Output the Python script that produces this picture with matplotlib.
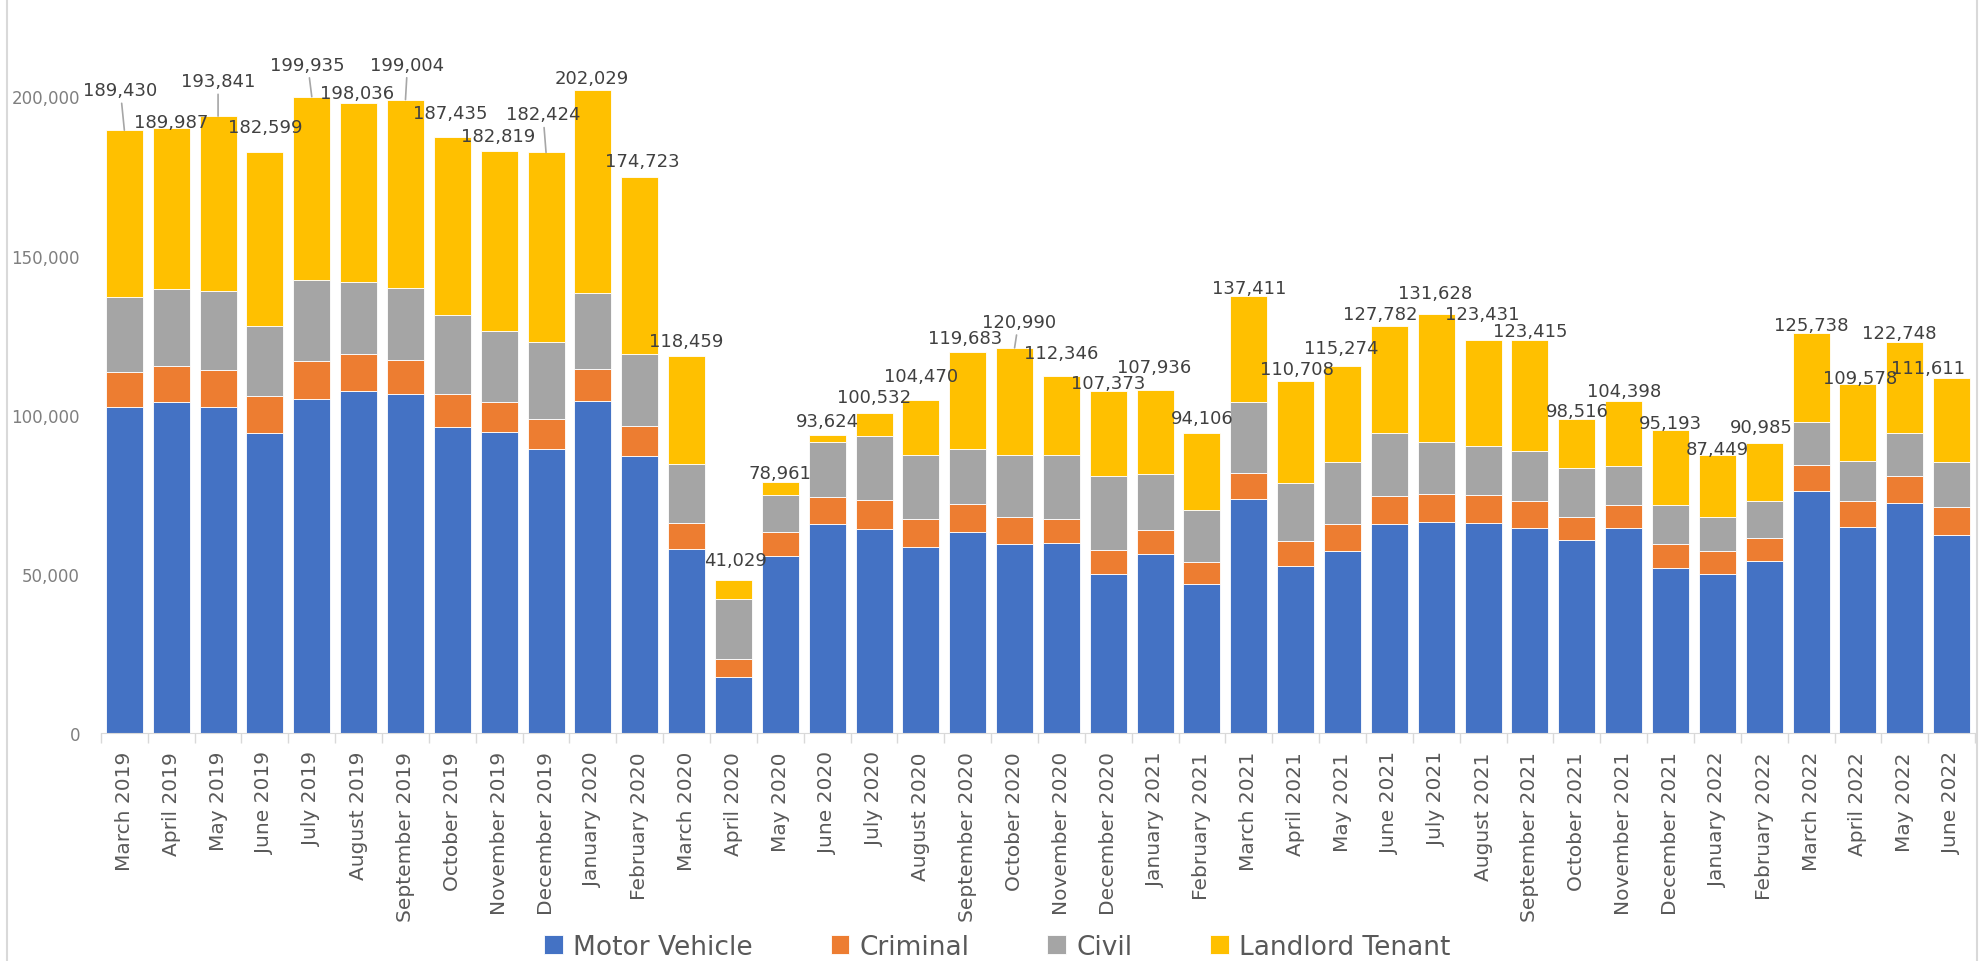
import numpy as np
import matplotlib
matplotlib.use("Agg")
from matplotlib import pyplot as plt
from matplotlib.ticker import FuncFormatter, FixedLocator

# Filings per month, in thousands
months = [
    "March 2019", "April 2019", "May 2019", "June 2019", "July 2019", "August 2019",
    "September 2019", "October 2019", "November 2019", "December 2019",
    "January 2020", "February 2020", "March 2020", "April 2020", "May 2020", "June 2020",
    "July 2020", "August 2020", "September 2020", "October 2020", "November 2020",
    "December 2020", "January 2021", "February 2021", "March 2021", "April 2021",
    "May 2021", "June 2021", "July 2021", "August 2021", "September 2021",
    "October 2021", "November 2021", "December 2021", "January 2022", "February 2022",
    "March 2022", "April 2022", "May 2022", "June 2022",
]
motor_vehicle = [102.4, 104.0, 102.4, 94.3, 105.0, 107.6, 106.6, 96.2, 94.6, 89.2,
                 104.3, 87.1, 57.9, 17.5, 55.5, 65.7, 64.0, 58.3, 63.1, 59.4,
                 59.6, 50.0, 56.2, 46.8, 73.6, 52.6, 57.3, 65.7, 66.4, 66.1,
                 64.5, 60.5, 64.3, 51.8, 50.0, 54.0, 76.0, 64.7, 72.2, 62.2]
criminal = [11.1, 11.4, 11.8, 11.7, 12.0, 11.4, 10.7, 10.4, 9.4, 9.4,
            10.1, 9.4, 8.1, 5.9, 7.5, 8.4, 9.2, 8.8, 8.7, 8.5,
            7.5, 7.5, 7.6, 6.9, 8.1, 7.6, 8.4, 8.8, 8.7, 8.6,
            8.3, 7.5, 7.3, 7.6, 7.2, 7.2, 8.2, 8.1, 8.5, 8.8]
civil = [23.5, 24.2, 24.7, 21.9, 25.2, 22.7, 22.6, 24.7, 22.4, 24.3,
         23.9, 22.6, 18.5, 18.6, 11.9, 17.3, 20.2, 20.3, 17.3, 19.3,
         20.3, 23.1, 17.5, 16.3, 22.3, 18.4, 19.5, 19.9, 16.2, 15.6,
         15.9, 15.2, 12.4, 12.2, 10.8, 11.7, 13.6, 12.7, 13.6, 14.2]
landlord_tenant = [52.4, 50.4, 54.9, 54.7, 57.7, 56.3, 59.1, 56.1, 56.4, 59.5,
                   63.7, 55.6, 34.0, 6.2, 4.1, 2.2, 7.1, 17.1, 30.6, 33.8,
                   24.9, 26.8, 26.6, 24.1, 33.4, 32.1, 30.1, 33.4, 40.3, 33.1,
                   34.7, 15.3, 20.4, 23.6, 19.4, 18.1, 27.9, 24.1, 28.5, 26.4]
total_labels = [189430, 189987, 193841, 182599, 199935, 198036, 199004, 187435, 182819, 182424,
                202029, 174723, 118459, 41029, 78961, 93624, 100532, 104470, 119683, 120990,
                112346, 107373, 107936, 94106, 137411, 110708, 115274, 127782, 131628, 123431,
                123415, 98516, 104398, 95193, 87449, 90985, 125738, 109578, 122748, 111611]

series_names = ["Motor Vehicle", "Criminal", "Civil", "Landlord Tenant"]
colors = ["#4472C4", "#ED7D31", "#A5A5A5", "#FFC000"]

# label placement tweaks (pixels, relative to bar top) - excel moved some labels around
label_dx = [-4, 0, 0, 0, -4, -2, 2, -2, -1, -3, -1, 3, 0, 2, 0, 0, 0, 0, -3, 4,
            0, 0, -1, 0, 0, 1, -1, -9, -1, -1, 0, 0, 0, 0, 0, -3, 0, 2, -6, -24]
label_dy = [34, 0, 29, 19, 26, 4, 29, 18, 9, 32, 6, 10, 9, 14, 3, 8, 10, 18, 8, 20,
            17, 2, 17, 9, 2, 6, 12, 6, 15, 20, 3, 2, 4, 1, 0, 10, 2, 0, 3, 4]
leaders = {0, 2, 4, 6, 9, 19}

fig = plt.figure(figsize=(19.83, 9.62), dpi=100)
ax = fig.add_axes([0.0509, 0.2370, 0.9451, 0.7630])

x = np.arange(len(months))
bottom = np.zeros(len(months))
for name, vals, col in zip(series_names, [motor_vehicle, criminal, civil, landlord_tenant], colors):
    v = np.array(vals) * 1000
    ax.bar(x, v, width=0.79, bottom=bottom, color=col, edgecolor="white", linewidth=0.6, label=name)
    bottom = bottom + v

for i in range(len(months)):
    props = None
    if i in leaders:
        props = dict(arrowstyle="-", color="#A6A6A6", lw=1.2, shrinkA=1, shrinkB=0)
    ax.annotate(f"{total_labels[i]:,}", xy=(x[i], bottom[i]),
                xytext=(label_dx[i], label_dy[i] + 1), textcoords="offset pixels",
                ha="center", va="baseline", fontsize=13, color="#404040",
                arrowprops=props)

ax.set_xlim(-0.5, len(months) - 0.5)
ax.set_ylim(0, 230600)
ax.set_yticks([0, 50000, 100000, 150000, 200000])
ax.yaxis.set_major_formatter(FuncFormatter(lambda v, p: f"{int(v):,}"))
ax.tick_params(axis="y", length=0, pad=15, labelsize=12, labelcolor="#7F7F7F")

# tick marks between categories, labels at centres
ax.xaxis.set_major_locator(FixedLocator(np.arange(-0.5, len(months), 1)))
ax.xaxis.set_minor_locator(FixedLocator(x))
ax.set_xticklabels([], minor=False)
ax.set_xticklabels(months, minor=True, rotation=90)
ax.tick_params(axis="x", which="major", length=7, color="#D9D9D9", width=1)
ax.tick_params(axis="x", which="minor", length=0, pad=13, labelsize=14.5, labelcolor="#595959")

for s in ["top", "right", "left"]:
    ax.spines[s].set_visible(False)
ax.spines["bottom"].set_color("#D9D9D9")

# chart frame edges
fig.add_artist(plt.Line2D([7 / 1983, 7 / 1983], [0, 1], color="#D9D9D9", lw=1.5))
fig.add_artist(plt.Line2D([1977 / 1983, 1977 / 1983], [0, 1], color="#D9D9D9", lw=1.5))

fig.legend(loc="center", bbox_to_anchor=(0.503, 0.015), ncol=4, frameon=False,
           borderpad=0, handlelength=0.7, handleheight=0.7, handletextpad=0.4,
           columnspacing=2.95, fontsize=19, labelcolor="#595959")

fig.savefig("out.png", dpi=100)
